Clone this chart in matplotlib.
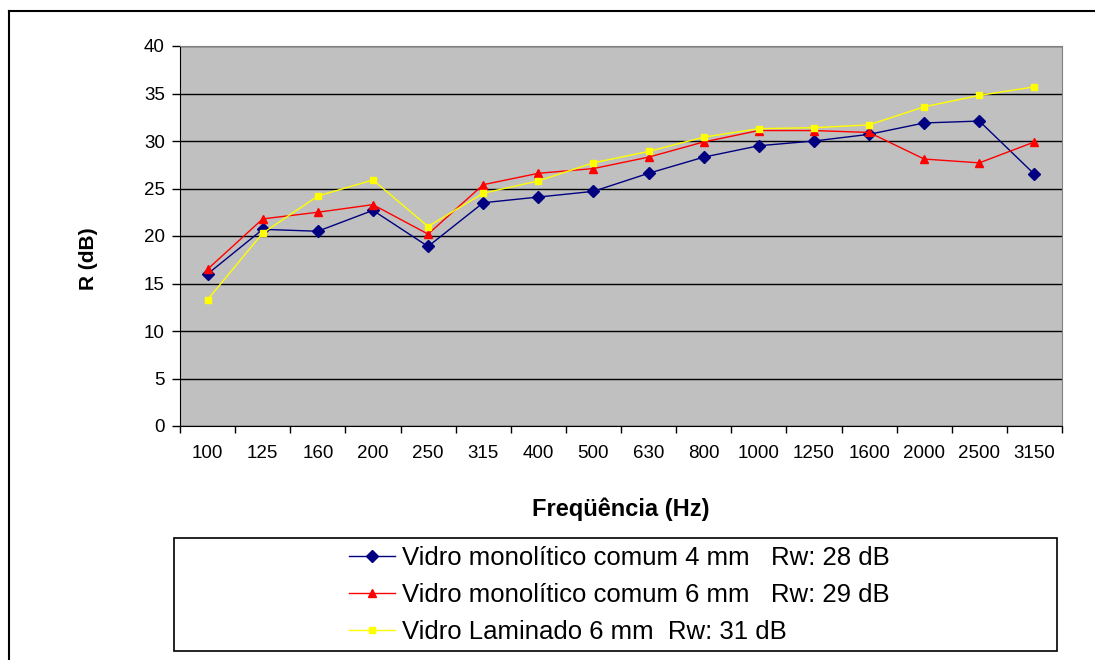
import matplotlib.pyplot as plt
from matplotlib.patches import Rectangle
from matplotlib.lines import Line2D

plt.rcParams['font.family'] = ['Liberation Sans', 'DejaVu Sans']

# bandas de 1/3 de oitava
freqs = ['100', '125', '160', '200', '250', '315', '400', '500', '630',
         '800', '1000', '1250', '1600', '2000', '2500', '3150']

# índice de redução sonora R (dB)
vidro_4mm = [16.0, 20.7, 20.5, 22.7, 18.9, 23.5, 24.1, 24.7, 26.6,
             28.3, 29.5, 30.0, 30.7, 31.9, 32.1, 26.5]
vidro_6mm = [16.5, 21.8, 22.5, 23.3, 20.2, 25.4, 26.6, 27.1, 28.3,
             29.9, 31.1, 31.1, 30.9, 28.1, 27.7, 29.9]
laminado_6mm = [13.3, 20.3, 24.2, 25.9, 21.0, 24.5, 25.8, 27.7, 28.9,
                30.4, 31.3, 31.4, 31.7, 33.6, 34.8, 35.7]

labels = ['Vidro monolítico comum 4 mm   Rw: 28 dB',
          'Vidro monolítico comum 6 mm   Rw: 29 dB',
          'Vidro Laminado 6 mm  Rw: 31 dB']

W, H = 1095, 660
fig = plt.figure(figsize=(W / 100, H / 100), dpi=100)

# moldura externa do gráfico
fig.add_artist(Line2D([9 / W, 1], [1 - 11 / H, 1 - 11 / H], color='black', lw=1.5,
                      transform=fig.transFigure))
fig.add_artist(Line2D([9 / W, 9 / W], [0, 1 - 11 / H], color='black', lw=1.5,
                      transform=fig.transFigure))

ax = fig.add_axes([180 / W, 1 - 426 / H, 882 / W, 380 / H])
ax.set_facecolor('#C0C0C0')

x = list(range(len(freqs)))
ax.plot(x, vidro_4mm, color='#000080', lw=1, marker='D', ms=6,
        mec='#000080', mfc='#000080', label=labels[0], zorder=3)
ax.plot(x, vidro_6mm, color='#FF0000', lw=1, marker='^', ms=6,
        mec='#FF0000', mfc='#FF0000', label=labels[1], zorder=3)
ax.plot(x, laminado_6mm, color='#FFFF00', lw=1, marker='s', ms=5,
        mec='#FFFF00', mfc='#FFFF00', label=labels[2], zorder=3)

ax.set_xlim(-0.5, len(freqs) - 0.5)
ax.set_ylim(0, 40)
ax.set_yticks(range(0, 41, 5))
ax.yaxis.grid(True, color='black', lw=1)
ax.set_axisbelow(True)

ax.set_xticks(x)
ax.set_xticklabels(freqs)
ax.set_xticks([i - 0.5 for i in range(len(freqs) + 1)], minor=True)
ax.tick_params(axis='x', which='major', length=0, pad=14, labelsize=13.5)
ax.tick_params(axis='x', which='minor', length=5, width=1, direction='out')
ax.tick_params(axis='y', length=6, width=1, direction='out', pad=5, labelsize=13.5)

for s in ('top', 'right'):
    ax.spines[s].set_color('#808080')
ax.spines['left'].set_color('black')
ax.spines['bottom'].set_color('black')

fig.text(88 / W, 1 - 259 / H, 'R (dB)', rotation=90, ha='center', va='center',
         fontsize=15, fontweight='bold')
fig.text(621 / W, 1 - 509 / H, 'Freqüência (Hz)', ha='center', va='center',
         fontsize=17, fontweight='bold')

# caixa da legenda
fig.add_artist(Rectangle((174 / W, 1 - 651 / H), (1057 - 174) / W, (651 - 538) / H,
                         transform=fig.transFigure, fill=False, ec='black', lw=1.2))
fig.legend(loc='center left', bbox_to_anchor=(349 / W, 1 - 595 / H),
           frameon=False, fontsize=18.5, handlelength=1.8, handletextpad=0.25,
           labelspacing=0.5, borderpad=0, borderaxespad=0)

fig.savefig('out.png', dpi=100)
